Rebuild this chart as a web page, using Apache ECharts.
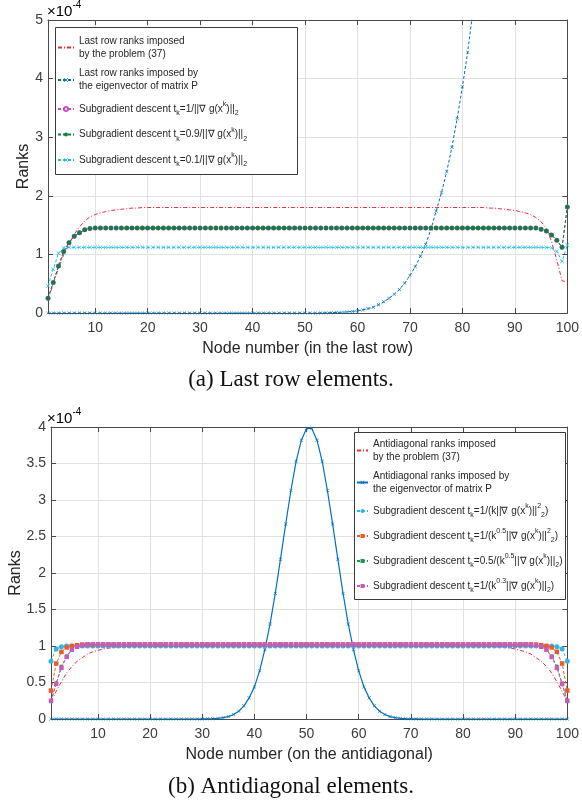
<!DOCTYPE html>
<html><head><meta charset="utf-8">
<script src="https://cdn.jsdelivr.net/npm/echarts@6/dist/echarts.min.js"></script>
<style>html,body{margin:0;padding:0;background:#fff}#c{width:582px;height:809px}</style>
</head><body><div id="c"></div><script>
// ---------- data (values in units of 1e-4) ----------
const xTicks = [10,20,30,40,50,60,70,80,90,100];

// (a) Last row
const redA = [
0.22,0.50,0.76,1.00,1.18,1.34,1.47,1.57,1.64,1.68,
1.71,1.73,1.75,1.76,1.77,1.78,1.79,1.79,1.80,1.80,
1.80,1.80,1.80,1.80,1.80,1.80,1.80,1.80,1.80,1.80,
1.80,1.80,1.80,1.80,1.80,1.80,1.80,1.80,1.80,1.80,
1.80,1.80,1.80,1.80,1.80,1.80,1.80,1.80,1.80,1.80,
1.80,1.80,1.80,1.80,1.80,1.80,1.80,1.80,1.80,1.80,
1.80,1.80,1.80,1.80,1.80,1.80,1.80,1.80,1.80,1.80,
1.80,1.80,1.80,1.80,1.80,1.80,1.80,1.80,1.80,1.80,
1.80,1.80,1.80,1.80,1.79,1.79,1.78,1.77,1.76,1.75,
1.73,1.71,1.68,1.63,1.56,1.44,1.22,0.90,0.55,0.53];
const blueA = [
0,0,0,0,0,0,0,0,0,0,
0,0,0,0,0,0,0,0,0,0,
0,0,0,0,0,0,0,0,0,0,
0,0,0,0,0,0,0,0,0,0,
0,0,0,0,0,0,0,0,0,0,
0,0,0.002,0.004,0.006,0.009,0.013,0.019,0.027,0.038,
0.053,0.075,0.10,0.14,0.19,0.25,0.32,0.40,0.51,0.64,
0.79,0.97,1.17,1.43,1.74,2.05,2.41,2.83,3.32,3.86,
4.45,5.15,5.95,6.9,8.0,9.2,10.6,12.2,14.0,16.1,
18.5,21.2,24.3,27.8,31.8,36.3,41.4,47.2,53.8,61.3];
const greenA = [
0.25,0.52,0.80,1.05,1.20,1.31,1.37,1.42,1.44,1.45,
1.45,1.45,1.45,1.45,1.45,1.45,1.45,1.45,1.45,1.45,
1.45,1.45,1.45,1.45,1.45,1.45,1.45,1.45,1.45,1.45,
1.45,1.45,1.45,1.45,1.45,1.45,1.45,1.45,1.45,1.45,
1.45,1.45,1.45,1.45,1.45,1.45,1.45,1.45,1.45,1.45,
1.45,1.45,1.45,1.45,1.45,1.45,1.45,1.45,1.45,1.45,
1.45,1.45,1.45,1.45,1.45,1.45,1.45,1.45,1.45,1.45,
1.45,1.45,1.45,1.45,1.45,1.45,1.45,1.45,1.45,1.45,
1.45,1.45,1.45,1.45,1.45,1.45,1.45,1.45,1.45,1.45,
1.45,1.45,1.45,1.45,1.43,1.40,1.33,1.24,1.12,1.81];
const magentaA = greenA; // hidden under the green series in the picture
const cyanA = [
0.46,0.75,1.02,1.11,1.12,1.12,1.12,1.12,1.12,1.12,
1.12,1.12,1.12,1.12,1.12,1.12,1.12,1.12,1.12,1.12,
1.12,1.12,1.12,1.12,1.12,1.12,1.12,1.12,1.12,1.12,
1.12,1.12,1.12,1.12,1.12,1.12,1.12,1.12,1.12,1.12,
1.12,1.12,1.12,1.12,1.12,1.12,1.12,1.12,1.12,1.12,
1.12,1.12,1.12,1.12,1.12,1.12,1.12,1.12,1.12,1.12,
1.12,1.12,1.12,1.12,1.12,1.12,1.12,1.12,1.12,1.12,
1.12,1.12,1.12,1.12,1.12,1.12,1.12,1.12,1.12,1.12,
1.12,1.12,1.12,1.12,1.12,1.12,1.12,1.12,1.12,1.12,
1.12,1.12,1.12,1.12,1.12,1.12,1.11,1.05,0.88,1.16];

// (b) Antidiagonal
const redB = [
0.24,0.38,0.51,0.63,0.72,0.79,0.84,0.89,0.92,0.94,
0.96,0.97,0.98,0.99,0.99,1.00,1.00,1.01,1.01,1.01,
1.01,1.01,1.01,1.01,1.01,1.01,1.01,1.01,1.01,1.01,
1.01,1.01,1.01,1.01,1.01,1.01,1.01,1.01,1.01,1.01,
1.01,1.01,1.01,1.01,1.01,1.01,1.01,1.01,1.01,1.01,
1.01,1.01,1.01,1.01,1.01,1.01,1.01,1.01,1.01,1.01,
1.01,1.01,1.01,1.01,1.01,1.01,1.01,1.01,1.01,1.01,
1.01,1.01,1.01,1.01,1.01,1.01,1.01,1.01,1.01,1.01,
1.01,1.01,1.01,1.00,1.00,0.99,0.99,0.98,0.97,0.96,
0.94,0.92,0.89,0.84,0.79,0.72,0.63,0.51,0.38,0.24];
const blueB = [
0,0,0,0,0,0,0,0,0,0,
0,0,0,0,0,0,0,0,0,0,
0,0,0,0,0,0,0,0,0,0.001,
0.002,0.004,0.009,0.018,0.033,0.061,0.106,0.18,0.29,0.44,
0.66,0.95,1.30,1.72,2.19,2.67,3.13,3.53,3.82,3.98,
3.98,3.82,3.53,3.13,2.67,2.19,1.72,1.30,0.95,0.66,
0.44,0.29,0.18,0.106,0.061,0.033,0.018,0.009,0.004,0.002,
0.001,0,0,0,0,0,0,0,0,0,
0,0,0,0,0,0,0,0,0,0,
0,0,0,0,0,0,0,0,0,0];
const cyanB = [
0.79,0.96,0.99,1.00,1.00,1.00,1.00,1.00,1.00,1.00,
1.00,1.00,1.00,1.00,1.00,1.00,1.00,1.00,1.00,1.00,
1.00,1.00,1.00,1.00,1.00,1.00,1.00,1.00,1.00,1.00,
1.00,1.00,1.00,1.00,1.00,1.00,1.00,1.00,1.00,1.00,
1.00,1.00,1.00,1.00,1.00,1.00,1.00,1.00,1.00,1.00,
1.00,1.00,1.00,1.00,1.00,1.00,1.00,1.00,1.00,1.00,
1.00,1.00,1.00,1.00,1.00,1.00,1.00,1.00,1.00,1.00,
1.00,1.00,1.00,1.00,1.00,1.00,1.00,1.00,1.00,1.00,
1.00,1.00,1.00,1.00,1.00,1.00,1.00,1.00,1.00,1.00,
1.00,1.00,1.00,1.00,1.00,1.00,1.00,0.99,0.96,0.79];
const orangeB = [
0.39,0.76,0.92,0.98,1.00,1.01,1.02,1.02,1.02,1.02,
1.02,1.02,1.02,1.02,1.02,1.02,1.02,1.02,1.02,1.02,
1.02,1.02,1.02,1.02,1.02,1.02,1.02,1.02,1.02,1.02,
1.02,1.02,1.02,1.02,1.02,1.02,1.02,1.02,1.02,1.02,
1.02,1.02,1.02,1.02,1.02,1.02,1.02,1.02,1.02,1.02,
1.02,1.02,1.02,1.02,1.02,1.02,1.02,1.02,1.02,1.02,
1.02,1.02,1.02,1.02,1.02,1.02,1.02,1.02,1.02,1.02,
1.02,1.02,1.02,1.02,1.02,1.02,1.02,1.02,1.02,1.02,
1.02,1.02,1.02,1.02,1.02,1.02,1.02,1.02,1.02,1.02,
1.02,1.02,1.02,1.02,1.01,1.00,0.98,0.92,0.76,0.39];
const greenB = [
0.24,0.49,0.72,0.86,0.95,0.99,1.01,1.02,1.02,1.02,
1.02,1.02,1.02,1.02,1.02,1.02,1.02,1.02,1.02,1.02,
1.02,1.02,1.02,1.02,1.02,1.02,1.02,1.02,1.02,1.02,
1.02,1.02,1.02,1.02,1.02,1.02,1.02,1.02,1.02,1.02,
1.02,1.02,1.02,1.02,1.02,1.02,1.02,1.02,1.02,1.02,
1.02,1.02,1.02,1.02,1.02,1.02,1.02,1.02,1.02,1.02,
1.02,1.02,1.02,1.02,1.02,1.02,1.02,1.02,1.02,1.02,
1.02,1.02,1.02,1.02,1.02,1.02,1.02,1.02,1.02,1.02,
1.02,1.02,1.02,1.02,1.02,1.02,1.02,1.02,1.02,1.02,
1.02,1.02,1.02,1.01,0.99,0.95,0.86,0.72,0.49,0.24];
const magentaB = [
0.25,0.48,0.70,0.85,0.95,0.99,1.01,1.02,1.02,1.02,
1.02,1.02,1.02,1.02,1.02,1.02,1.02,1.02,1.02,1.02,
1.02,1.02,1.02,1.02,1.02,1.02,1.02,1.02,1.02,1.02,
1.02,1.02,1.02,1.02,1.02,1.02,1.02,1.02,1.02,1.02,
1.02,1.02,1.02,1.02,1.02,1.02,1.02,1.02,1.02,1.02,
1.02,1.02,1.02,1.02,1.02,1.02,1.02,1.02,1.02,1.02,
1.02,1.02,1.02,1.02,1.02,1.02,1.02,1.02,1.02,1.02,
1.02,1.02,1.02,1.02,1.02,1.02,1.02,1.02,1.02,1.02,
1.02,1.02,1.02,1.02,1.02,1.02,1.02,1.02,1.02,1.02,
1.02,1.02,1.02,1.01,0.99,0.95,0.85,0.70,0.48,0.25];

// ---------- chart ----------
const FONT = '"Liberation Sans", Arial, Helvetica, sans-serif';
const AX = '#4a4a4a';
const GRIDC = '#e2e2e2';
const XSYM = 'path://M0,1L1,0L5,4L9,0L10,1L6,5L10,9L9,10L5,6L1,10L0,9L4,5Z';
const pairs = arr => arr.map((v, i) => [i + 1, v]);

function xAxes(grid, name) {
  return [{
    gridIndex: grid, type: 'value', min: 1, max: 100, position: 'bottom',
    axisLine: {show: true, onZero: false, lineStyle: {color: AX, width: 1}},
    axisTick: {show: true, inside: true, length: 5, customValues: xTicks, lineStyle: {color: AX}},
    axisLabel: {customValues: xTicks, margin: 8, color: '#3c3c3c', fontSize: 14, fontFamily: FONT},
    splitLine: {show: true, lineStyle: {color: GRIDC, width: 1}},
    name: name, nameLocation: 'middle', nameGap: 28, nameMoveOverlap: false,
    nameTextStyle: {color: '#262626', fontSize: 16, fontFamily: FONT}
  }, {
    gridIndex: grid, type: 'value', min: 1, max: 100, position: 'top',
    axisLine: {show: true, onZero: false, lineStyle: {color: AX, width: 1}},
    axisTick: {show: true, inside: true, length: 5, customValues: xTicks, lineStyle: {color: AX}},
    axisLabel: {show: false}, splitLine: {show: false}
  }];
}
function yAxes(grid, max, interval, gap) {
  return [{
    gridIndex: grid, type: 'value', min: 0, max: max, interval: interval, position: 'left',
    axisLine: {show: true, onZero: false, lineStyle: {color: AX, width: 1}},
    axisTick: {show: true, inside: true, length: 5, lineStyle: {color: AX}},
    axisLabel: {margin: 5, color: '#3c3c3c', fontSize: 14, fontFamily: FONT},
    splitLine: {show: true, lineStyle: {color: GRIDC, width: 1}},
    name: 'Ranks', nameLocation: 'middle', nameGap: gap, nameMoveOverlap: false,
    nameTextStyle: {color: '#262626', fontSize: 16, fontFamily: FONT}
  }, {
    gridIndex: grid, type: 'value', min: 0, max: max, interval: interval, position: 'right',
    axisLine: {show: true, onZero: false, lineStyle: {color: AX, width: 1}},
    axisTick: {show: true, inside: true, length: 5, lineStyle: {color: AX}},
    axisLabel: {show: false}, splitLine: {show: false}
  }];
}

function ser(name, data, xi, yi, color, lineType, width, symbol, size, z) {
  return {
    name: name, type: 'line', xAxisIndex: xi, yAxisIndex: yi, data: pairs(data),
    symbol: symbol, symbolSize: size, showSymbol: symbol !== 'none',
    lineStyle: {color: color, width: width, type: lineType},
    itemStyle: {color: color, borderWidth: symbol === 'emptyCircle' ? 1 : 0, borderColor: color},
    z: z, animation: false, silent: true, clip: true
  };
}

const NA = ['A1','A2','A3','A4','A5'];
const NB = ['B1','B2','B3','B4','B5','B6'];
const NOSYM = ['A1','B1'];
const LBL = {
  A1: '{n|Last row ranks imposed}\n{n|by the problem (37)}',
  A2: '{n|Last row ranks imposed by}\n{n|the eigenvector of matrix P}',
  A3: '{m|Subgradient descent t}{sub|k}{m|=1/||∇ g(x}{sup|k}{m|)||}{sub|2}',
  A4: '{m|Subgradient descent t}{sub|k}{m|=0.9/||∇ g(x}{sup|k}{m|)||}{sub|2}',
  A5: '{m|Subgradient descent t}{sub|k}{m|=0.1/||∇ g(x}{sup|k}{m|)||}{sub|2}',
  B1: '{n|Antidiagonal ranks imposed}\n{n|by the problem (37)}',
  B2: '{n|Antidiagonal ranks imposed by}\n{n|the eigenvector of matrix P}',
  B3: '{m|Subgradient descent t}{sub|k}{m|=1/(k||∇ g(x}{sup|k}{m|)||}{sup|2}{sub|2}{m|)}',
  B4: '{m|Subgradient descent t}{sub|k}{m|=1/(k}{sup|0.5}{m|||∇ g(x}{sup|k}{m|)||}{sup|2}{sub|2}{m|)}',
  B5: '{m|Subgradient descent t}{sub|k}{m|=0.5/(k}{sup|0.5}{m|||∇ g(x}{sup|k}{m|)||}{sub|2}{m|)}',
  B6: '{m|Subgradient descent t}{sub|k}{m|=1/(k}{sup|0.3}{m|||∇ g(x}{sup|k}{m|)||}{sub|2}{m|)}'
};
const TC = '#262626';
const rich = {
  n: {fontSize: 10, lineHeight: 13, fontFamily: FONT, color: TC},
  m: {fontSize: 10, lineHeight: 16, fontFamily: FONT, color: TC},
  sub: {fontSize: 7, lineHeight: 16, fontFamily: FONT, color: TC, verticalAlign: 'bottom'},
  sup: {fontSize: 7, lineHeight: 16, fontFamily: FONT, color: TC, verticalAlign: 'top'}
};
function legend(names, left, top, iw, gap) {
  return {
    data: names.map(n => NOSYM.includes(n) ? {name: n, itemStyle: {opacity: 0}} : {name: n}),
    orient: 'vertical', left: left, top: top, itemWidth: iw, itemHeight: 5,
    itemGap: gap, padding: 0, selectedMode: false, z: 20,
    textStyle: {fontSize: 10, fontFamily: FONT, color: TC, rich: rich},
    formatter: n => LBL[n]
  };
}

const series = [
  ser('A1', redA, 0, 0, '#EE2A36', [4,2,1,2], 1, 'none', 0, 2),
  ser('A2', blueA, 0, 0, '#0072BD', [3,2], 1, XSYM, 3.5, 3),
  ser('A3', magentaA, 0, 0, '#C84FC8', [3,2], 1, 'emptyCircle', 3, 4),
  ser('A4', greenA, 0, 0, '#0E8040', [3,2], 1, 'circle', 4.5, 5),
  ser('A5', cyanA, 0, 0, '#22BBEE', [3,2], 1, XSYM, 4, 6),
  ser('B1', redB, 2, 2, '#EE2A36', [4,2,1,2], 1, 'none', 0, 2),
  ser('B2', blueB, 2, 2, '#0072BD', 'solid', 1.2, XSYM, 3.5, 3),
  ser('B3', cyanB, 2, 2, '#2DB7E8', [3,2], 1, 'circle', 5, 4),
  ser('B4', orangeB, 2, 2, '#EE5A25', [3,2], 1, 'rect', 4.5, 5),
  ser('B5', greenB, 2, 2, '#1F9A55', [3,2], 1, 'rect', 3.5, 6),
  ser('B6', magentaB, 2, 2, '#C65BB8', [3,2], 1, 'rect', 4.5, 7)
];

const expRich = {
  a: {fontSize: 15, fontFamily: FONT, color: '#3c3c3c', lineHeight: 19, verticalAlign: 'bottom'},
  b: {fontSize: 10, fontFamily: FONT, color: '#3c3c3c', lineHeight: 19, verticalAlign: 'top'}
};
const SERIF = '"Liberation Serif", "Times New Roman", serif';

const option = {
  backgroundColor: '#fff',
  animation: false,
  grid: [
    {left: 48, right: 12, top: 20, height: 293, containLabel: false},
    {left: 48, right: 12, top: 427, height: 292, containLabel: false}
  ],
  xAxis: [].concat(xAxes(0, 'Node number (in the last row)'), xAxes(1, 'Node number (on the antidiagonal)')),
  yAxis: [].concat(yAxes(0, 5, 1, 16), yAxes(1, 4, 0.5, 27)),
  legend: [legend(NA, 57, 36, 16, 9.5), legend(NB, 356, 439, 11, 9)],
  series: series,
  graphic: [
    {type: 'rect', z: 10, shape: {x: 55.5, y: 27.5, width: 242, height: 147}, style: {fill: '#fff', stroke: '#3a3a3a', lineWidth: 1}},
    {type: 'rect', z: 10, shape: {x: 354.5, y: 432.5, width: 211, height: 167}, style: {fill: '#fff', stroke: '#3a3a3a', lineWidth: 1}},
    {type: 'text', z: 10, x: 47, y: 0, style: {text: '{a|×10}{b|-4}', rich: expRich}},
    {type: 'text', z: 10, x: 47, y: 407, style: {text: '{a|×10}{b|-4}', rich: expRich}},
    {type: 'text', z: 10, x: 291, y: 380, style: {text: '(a) Last row elements.', fontFamily: SERIF, fontSize: 23, fill: '#111', align: 'center', verticalAlign: 'middle'}},
    {type: 'text', z: 10, x: 291, y: 787, style: {text: '(b) Antidiagonal elements.', fontFamily: SERIF, fontSize: 23, fill: '#111', align: 'center', verticalAlign: 'middle'}}
  ]
};

const chart = echarts.init(document.getElementById('c'), null, {renderer: 'canvas'});
chart.setOption(option);
</script></body></html>
